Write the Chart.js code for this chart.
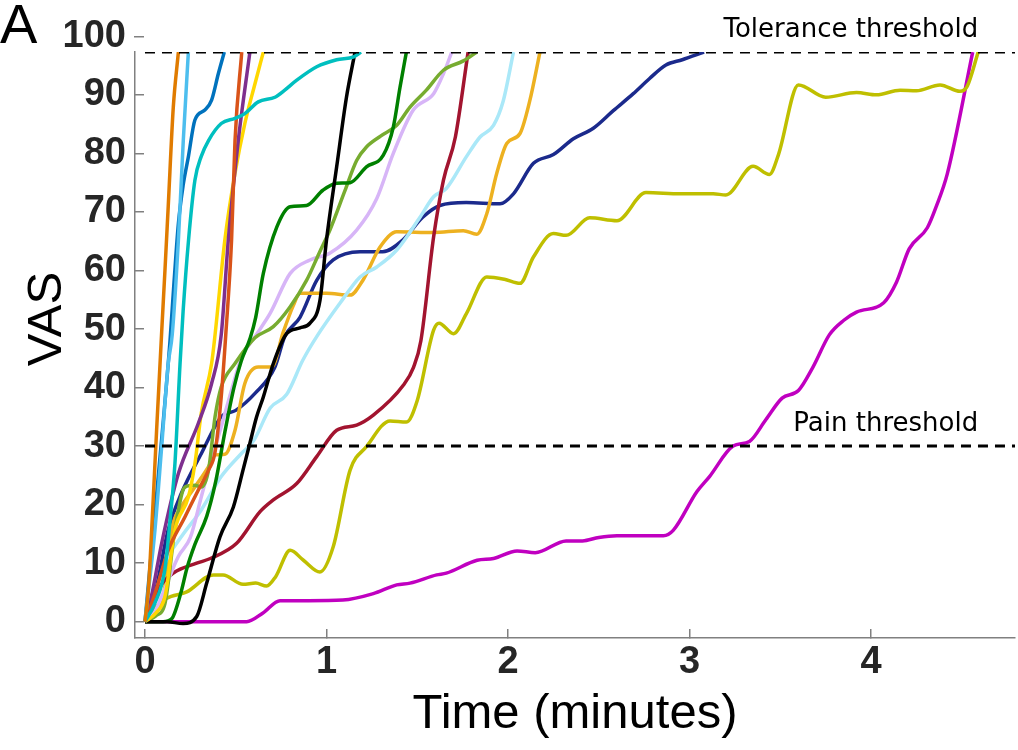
<!DOCTYPE html>
<html>
<head>
<meta charset="utf-8">
<script src="https://cdn.jsdelivr.net/npm/chart.js@4.4.1/dist/chart.umd.min.js"></script>
<style>
  html, body { margin: 0; padding: 0; background: #fff; }
</style>
</head>
<body>
<canvas id="graficoVAS" width="1018" height="750"></canvas>
<script>
// DATOS: [tiempo (min), VAS]

const orangeLine = [[0,0],[0.02,6],[0.037,15.7],[0.064,32.7],[0.092,49.5],[0.11,60],[0.128,70.9],[0.156,87.9],[0.184,97.3]];
const skyBlue = [[0,0],[0.055,15.7],[0.092,29.9],[0.128,44.1],[0.15,49],[0.184,65.2],[0.211,82.2],[0.239,97.3]];
const blue = [[0,0],[0.05,17],[0.1,34],[0.138,48],[0.16,58],[0.184,68],[0.21,74.5],[0.239,79.4],[0.275,85.7],[0.33,87.4],[0.367,89.1],[0.404,93.6],[0.437,97.3]];
const teal = [[0,0],[0.055,3.2],[0.11,9],[0.14,18],[0.165,27],[0.193,44],[0.21,53],[0.24,65.2],[0.275,75.4],[0.31,79.5],[0.35,82.2],[0.42,85.1],[0.496,86],[0.55,86.8],[0.624,88.8],[0.716,89.6],[0.77,90.8],[0.836,92.5],[0.946,94.8],[1.056,96],[1.15,96.5],[1.19,97.3]];
const redOrange = [[0,0],[0.055,4.8],[0.128,12.2],[0.22,17.9],[0.294,22.5],[0.35,25.9],[0.386,29],[0.42,38.4],[0.445,49],[0.477,65.2],[0.496,82.2],[0.533,97.3]];
const purple = [[0,0],[0.04,5],[0.092,13.4],[0.184,25.3],[0.294,33.9],[0.367,40.7],[0.42,49],[0.459,65.2],[0.514,82.2],[0.578,97.3]];
const yellow = [[0,0],[0.06,1.5],[0.11,4.3],[0.165,15.7],[0.239,21.3],[0.275,27],[0.31,35.6],[0.367,44.1],[0.386,49],[0.44,65.2],[0.496,76.6],[0.55,85.1],[0.606,91.9],[0.652,97.3]];
const black = [[0,0],[0.12,0],[0.21,-0.3],[0.285,0.9],[0.34,6.6],[0.413,14.5],[0.487,19.6],[0.54,25.9],[0.578,30.5],[0.615,35],[0.652,38.4],[0.707,44.1],[0.78,49.2],[0.854,50.2],[0.909,51],[0.964,54.9],[1.0,65.2],[1.056,77.7],[1.11,89.6],[1.157,97.3]];
const green = [[0,0],[0.1,0],[0.147,0.5],[0.2,5.2],[0.23,9],[0.275,13.2],[0.34,18],[0.39,24],[0.44,32.4],[0.49,40],[0.53,44.5],[0.58,48.5],[0.61,52],[0.652,59.5],[0.726,67.4],[0.8,70.9],[0.89,71.1],[0.98,73.7],[1.056,74.9],[1.13,75],[1.22,77.7],[1.313,79.7],[1.368,84.5],[1.405,91.3],[1.44,97.3]];
const oliveGreen = [[0,0],[0.06,1],[0.11,3.1],[0.165,15.7],[0.22,23],[0.275,23.3],[0.31,23],[0.35,25.9],[0.386,35],[0.42,40.1],[0.496,44.1],[0.606,48.5],[0.707,50.4],[0.8,53.8],[0.89,58.3],[0.96,63],[1.02,67],[1.1,73.5],[1.166,78.8],[1.22,81.1],[1.3,83],[1.387,84.8],[1.46,87.9],[1.55,90.8],[1.644,94.2],[1.754,95.8],[1.828,97.3]];
const lavender = [[0,0],[0.05,1.5],[0.092,4.3],[0.183,11.1],[0.25,14.4],[0.31,21.3],[0.35,25.9],[0.42,33.3],[0.477,39.6],[0.533,45.2],[0.606,48.7],[0.69,52.7],[0.8,59.5],[0.909,61.8],[1.02,63],[1.166,66.9],[1.277,72.3],[1.368,80],[1.478,87.4],[1.59,90.2],[1.644,93.6],[1.69,97.3]];
const darkRed = [[0,0],[0.04,3],[0.083,6],[0.156,8.3],[0.285,10],[0.36,10.8],[0.505,13.4],[0.634,18.8],[0.707,20.8],[0.836,23.6],[0.946,28.2],[1.056,32.7],[1.166,33.6],[1.258,35.3],[1.423,40.4],[1.48,43.5],[1.52,48],[1.59,65.7],[1.644,75.4],[1.71,82.8],[1.78,97.3]];
const lightCyan = [[0,0],[0.05,4],[0.11,10],[0.2,14.5],[0.31,19.1],[0.42,24.8],[0.53,28.7],[0.6,31],[0.69,36.5],[0.78,38.8],[0.87,44.7],[0.946,48.7],[1.074,54.4],[1.185,58.9],[1.277,60.6],[1.387,63.5],[1.515,69.1],[1.59,72.6],[1.66,74],[1.77,79.4],[1.846,82.8],[1.92,84.8],[1.974,89],[2.03,97.3]];
const gold = [[0,0],[0.05,1],[0.11,6],[0.147,15.7],[0.2,19.6],[0.275,23],[0.35,26.5],[0.386,28.5],[0.44,28.6],[0.496,32.7],[0.55,40.7],[0.624,43.5],[0.698,43.5],[0.762,49.5],[0.817,54],[0.854,56.1],[1.0,56.1],[1.13,55.8],[1.2,58.3],[1.295,64],[1.387,66.6],[1.59,66.5],[1.754,66.8],[1.828,66.2],[1.883,69.7],[1.938,76.6],[1.993,81.7],[2.066,83.4],[2.12,89],[2.176,97.3]];
const navy = [[0,0],[0.055,4.8],[0.128,15.7],[0.2,21.9],[0.31,28.7],[0.42,35],[0.5,36.1],[0.606,39],[0.716,43.5],[0.77,48.7],[0.854,52],[0.946,58.3],[1.037,61.8],[1.185,63.2],[1.31,63.2],[1.42,65.2],[1.53,69.1],[1.625,71.1],[1.77,71.6],[1.956,71.4],[2.03,73.1],[2.14,78.3],[2.25,79.8],[2.36,82.5],[2.47,84.3],[2.58,87.3],[2.69,90.2],[2.78,92.8],[2.87,95.1],[2.96,96],[3.08,97.3]];
const olive = [[0,0],[0.06,2.5],[0.12,4],[0.23,5.1],[0.376,8],[0.43,8],[0.54,6.4],[0.61,6.6],[0.67,6.1],[0.72,7.7],[0.8,12.2],[0.873,10.5],[0.964,8.5],[1.037,12.8],[1.13,25.9],[1.22,29.9],[1.35,34.3],[1.44,34.1],[1.5,37.8],[1.59,49.8],[1.62,51],[1.7,49.2],[1.77,52.6],[1.883,58.9],[1.98,58.5],[2.066,57.8],[2.14,62.3],[2.25,66.3],[2.32,66],[2.45,69],[2.6,68.5],[2.76,73.3],[2.95,73.1],[3.13,73.1],[3.2,72.9],[3.35,77.8],[3.44,76.4],[3.49,79.8],[3.6,91.7],[3.75,89.6],[3.92,90.4],[4.03,90],[4.16,90.8],[4.25,90.7],[4.38,91.7],[4.49,90.6],[4.53,91.5],[4.59,97.3]];
const magenta = [[0,0],[0.3,0],[0.56,0],[0.65,1.5],[0.744,3.6],[0.9,3.6],[1.09,3.7],[1.258,4.8],[1.387,6.3],[1.46,6.6],[1.607,8],[1.66,8.3],[1.83,10.5],[1.92,10.8],[2.05,12.1],[2.15,11.8],[2.32,13.8],[2.41,13.8],[2.5,14.4],[2.6,14.7],[2.856,14.7],[2.91,15.6],[3.04,22.2],[3.11,24.8],[3.24,30],[3.33,30.8],[3.42,34.5],[3.51,38.2],[3.6,39.5],[3.68,43.5],[3.77,49],[3.85,51.5],[3.92,52.9],[4.07,54.5],[4.14,58],[4.21,63.7],[4.31,67.3],[4.36,71],[4.42,76.5],[4.56,97.3]];

const series = [orangeLine, skyBlue, blue, teal, redOrange, purple, yellow, black, green, oliveGreen, lavender, darkRed, lightCyan, gold, navy, olive, magenta];
const colors = ['#E07B00','#4DBEEE','#0072BD','#00BFBF','#D95319','#7E2F8E','#FFD700','#000000','#008000','#77AC30','#D7B5F7','#A2142F','#AAE8F8','#EDB120','#1B2A8C','#BFBF00','#C000C0'];

// umbrales
const thresholdLabels = ['Tolerance threshold', 'Pain threshold'];
const thresholdValues = [97.3, 30];

// ejes
const xTicks = [0, 1, 2, 3, 4];
const yTicks = [0, 10, 20, 30, 40, 50, 60, 70, 80, 90, 100];
const X_MIN = -0.055, X_MAX = 4.793;
const Y_MIN = -2.78, Y_MAX = 97.32;

const tickFont = { family: "'Liberation Sans', Arial, sans-serif", size: 38, weight: 'bold' };

const datasets = [];
thresholdValues.forEach((v, i) => {
  datasets.push({
    label: thresholdLabels[i],
    data: [{ x: 0, y: v }, { x: X_MAX, y: v }],
    borderColor: '#000',
    borderWidth: 3,
    borderDash: [10, 7],
    pointRadius: 0,
    tension: 0
  });
});
series.forEach((s, i) => {
  datasets.push({
    label: 'S' + (i + 1),
    data: s.map(p => ({ x: p[0], y: p[1] })),
    borderColor: colors[i],
    borderWidth: 3.5,
    pointRadius: 0,
    cubicInterpolationMode: 'monotone'
  });
});

// textos sobre el grafico
const anotaciones = {
  id: 'anotaciones',
  afterDraw(chart) {
    const { ctx, scales: { x, y } } = chart;
    ctx.save();
    ctx.fillStyle = '#000';
    ctx.font = '26px "DejaVu Sans"';
    ctx.textAlign = 'right';
    ctx.textBaseline = 'alphabetic';
    thresholdValues.forEach((v, i) => {
      ctx.fillText(thresholdLabels[i], x.getPixelForValue(4.59), y.getPixelForValue(v) - 15);
    });

    ctx.font = '49px "Liberation Sans"';
    ctx.textAlign = 'center';
    ctx.textBaseline = 'middle';
    ctx.translate(47, 319);
    ctx.rotate(-Math.PI / 2);
    ctx.fillText('VAS', 0, 0);
    ctx.restore();

    ctx.save();
    ctx.fillStyle = '#000';
    ctx.font = '56px "Liberation Sans"';
    ctx.textAlign = 'left';
    ctx.textBaseline = 'alphabetic';
    ctx.fillText('A', 0, 43);
    ctx.restore();
  }
};

const config = {
  type: 'line',
  data: { datasets: datasets },
  options: {
    responsive: false,
    animation: false,
    devicePixelRatio: 1,
    layout: { padding: { top: 52, right: 3, left: 0, bottom: 0 } },
    plugins: { legend: { display: false }, tooltip: { enabled: false } },
    scales: {
      x: {
        type: 'linear',
        min: X_MIN,
        max: X_MAX,
        bounds: 'data',
        afterFit: s => { s.height = 112; },
        afterBuildTicks: s => { s.ticks = xTicks.map(v => ({ value: v })); },
        ticks: { font: tickFont, color: '#262626', padding: 11, autoSkip: false, maxRotation: 0, callback: v => v },
        grid: { drawOnChartArea: false, drawTicks: true, tickLength: -9, color: '#808080', lineWidth: 1.5 },
        border: { display: true, color: '#808080', width: 1.5 },
        title: { display: true, text: 'Time (minutes)', color: '#000', font: { family: "'Liberation Sans'", size: 49 }, padding: { top: 0, bottom: 6 } }
      },
      y: {
        type: 'linear',
        min: Y_MIN,
        max: Y_MAX,
        bounds: 'data',
        afterFit: s => { s.width = 135; },
        afterBuildTicks: s => { s.ticks = yTicks.map(v => ({ value: v })); },
        ticks: { font: tickFont, color: '#262626', padding: 18, autoSkip: false, callback: v => v },
        grid: { drawOnChartArea: false, drawTicks: true, tickLength: -9, color: '#808080', lineWidth: 1.5 },
        border: { display: true, color: '#808080', width: 1.5 }
      }
    }
  },
  plugins: [anotaciones]
};

var graficoVAS = new Chart(document.getElementById('graficoVAS'), config);
</script>
</body>
</html>
